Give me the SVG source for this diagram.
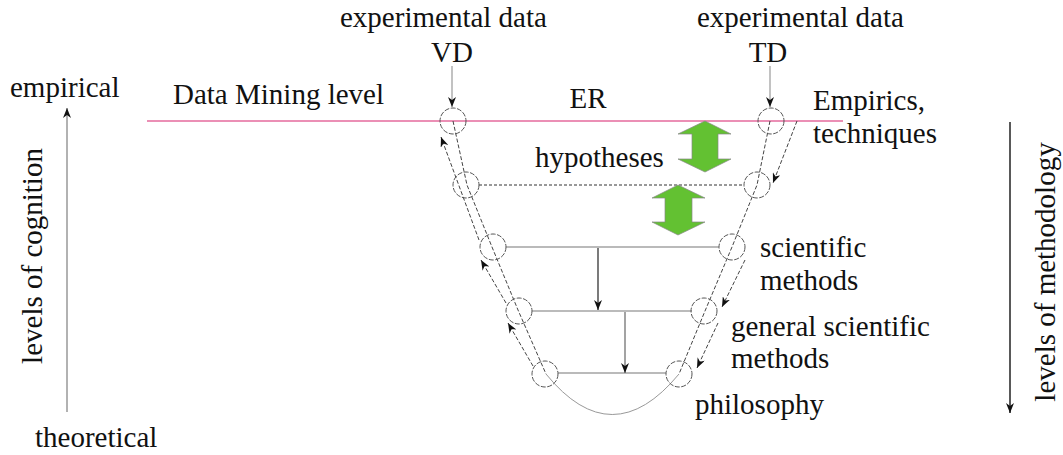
<svg xmlns="http://www.w3.org/2000/svg" width="1063" height="455" viewBox="0 0 1063 455">
<style>
.lbl text{font-family:'Liberation Serif','Times New Roman',serif;font-size:29px;fill:#111}
.circ{fill:none;stroke:#555;stroke-width:1;stroke-dasharray:5,1.5}
.dash{fill:none;stroke:#444;stroke-width:1;stroke-dasharray:4,2}
.green{fill:#63c132;stroke:#888;stroke-width:0.7}
</style>
<defs>
<marker id="ah" markerUnits="userSpaceOnUse" markerWidth="11" markerHeight="8" refX="10" refY="4" orient="auto">
<path d="M0,0 L10,4 L0,8 L3,4 z" fill="#111"/>
</marker>
</defs>
<rect width="1063" height="455" fill="#fff"/>
<g id="connectors">
<line x1="147" y1="121" x2="843" y2="121" stroke="#e46a9c" stroke-width="1.5"/>
<line x1="452" y1="66" x2="452" y2="107" stroke="#999" stroke-width="1.2" marker-end="url(#ah)"/>
<line x1="770" y1="66" x2="770" y2="107" stroke="#999" stroke-width="1.2" marker-end="url(#ah)"/>
<line x1="67" y1="412" x2="67" y2="108" stroke="#999" stroke-width="1.5" marker-end="url(#ah)"/>
<line x1="1010" y1="122" x2="1010" y2="413" stroke="#222" stroke-width="1.5" marker-end="url(#ah)"/>
<path class="dash" d="M453,121 L467,185 L492,247 L518,310 L546,374"/>
<path class="dash" d="M770,121 L757,185 L732,247 L705,311 L679,374"/>
<path d="M546,374 Q612,455 679,374" fill="none" stroke="#999" stroke-width="1"/>
<path class="dash" d="M479,240 L441,137" marker-end="url(#ah)"/>
<path class="dash" d="M506,303 L481,260" marker-end="url(#ah)"/>
<path class="dash" d="M533,366 L508,323" marker-end="url(#ah)"/>
<path class="dash" d="M797,121 L773,183" marker-end="url(#ah)"/>
<path class="dash" d="M745,260 L722,307" marker-end="url(#ah)"/>
<path class="dash" d="M718,323 L697,368" marker-end="url(#ah)"/>
<line x1="479" y1="185" x2="744" y2="185" stroke="#333" stroke-width="1" stroke-dasharray="3,2"/>
<line x1="506" y1="247" x2="719" y2="247" stroke="#777" stroke-width="1.2"/>
<line x1="532" y1="311" x2="692" y2="311" stroke="#bbb" stroke-width="2"/>
<line x1="558" y1="373" x2="666" y2="373" stroke="#777" stroke-width="1.2"/>
<line x1="598" y1="248" x2="598" y2="310" stroke="#222" stroke-width="1.2" marker-end="url(#ah)"/>
<line x1="625" y1="312" x2="625" y2="373" stroke="#666" stroke-width="1.2" marker-end="url(#ah)"/>
</g>
<g id="nodes-left">
<circle id="c1l" class="circ" cx="453" cy="121" r="13"/>
<circle id="c2l" class="circ" cx="466" cy="185" r="13"/>
<circle id="c3l" class="circ" cx="493" cy="247" r="13"/>
<circle id="c4l" class="circ" cx="519" cy="311" r="13"/>
<circle id="c5l" class="circ" cx="545" cy="374" r="13"/>
</g>
<g id="nodes-right">
<circle id="c1r" class="circ" cx="771" cy="121" r="13"/>
<circle id="c2r" class="circ" cx="757" cy="185" r="13"/>
<circle id="c3r" class="circ" cx="732" cy="247" r="13"/>
<circle id="c4r" class="circ" cx="704" cy="311" r="13"/>
<circle id="c5r" class="circ" cx="679" cy="374" r="13"/>
</g>
<g id="green-arrows">
<polygon class="green" points="705,121 731,134 718,134 718,159 731,159 705,172 678,159 692,159 692,134 678,134"/>
<polygon class="green" points="678,185 705,198 692,198 692,222 705,222 678,235 652,222 665,222 665,198 652,198"/>
</g>
<g id="labels" class="lbl">
<text x="340" y="27">experimental data</text>
<text x="452" y="62" text-anchor="middle">VD</text>
<text x="697" y="27">experimental data</text>
<text x="768" y="62" text-anchor="middle">TD</text>
<text x="173" y="104">Data Mining level</text>
<text x="588" y="108" text-anchor="middle">ER</text>
<text x="813" y="110">Empirics,</text>
<text x="813" y="143">techniques</text>
<text x="535" y="167">hypotheses</text>
<text x="760" y="257">scientific</text>
<text x="760" y="290">methods</text>
<text x="731" y="336">general scientific</text>
<text x="731" y="368">methods</text>
<text x="695" y="414">philosophy</text>
<text x="10" y="97">empirical</text>
<text x="35" y="447">theoretical</text>
<text transform="translate(42,256) rotate(-90)" text-anchor="middle">levels of cognition</text>
<text transform="translate(1055,272) rotate(-90)" text-anchor="middle">levels of methodology</text>
</g>
</svg>
